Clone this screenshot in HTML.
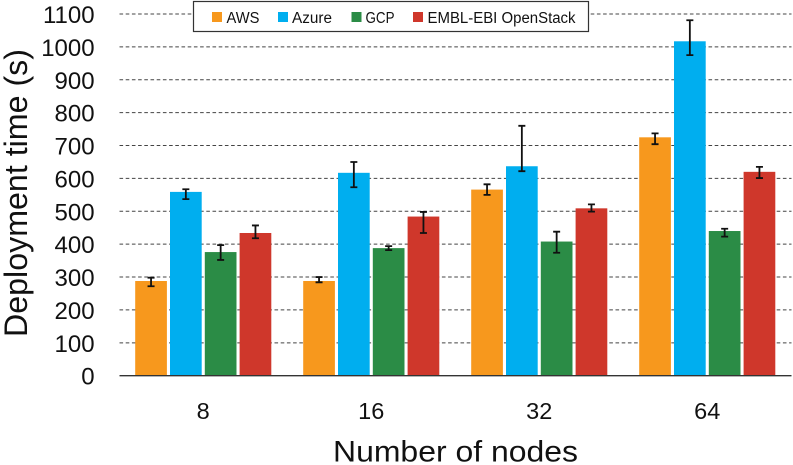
<!DOCTYPE html>
<html>
<head>
<meta charset="utf-8">
<style>
html,body{margin:0;padding:0;background:#fff;width:793px;height:465px;overflow:hidden}
svg{display:block}
text{font-family:"Liberation Sans",sans-serif;fill:#111}
</style>
</head>
<body>
<svg id="chart" width="793" height="465" viewBox="0 0 793 465" xmlns="http://www.w3.org/2000/svg"></svg>
<script>
const categories = ['8', '16', '32', '64'];
const seriesNames = ['AWS', 'Azure', 'GCP', 'EMBL-EBI OpenStack'];
const seriesColors = ['#F7981D', '#00AEEF', '#2B8C46', '#CF372B'];
const awsValues = [288, 288, 566, 725];
const azureValues = [559, 617, 637, 1017];
const gcpValues = [376, 388, 408, 440];
const openstackValues = [434, 484, 509, 620];
const awsErrHigh = [298, 300, 582, 737];
const awsErrLow = [272, 284, 550, 704];
const azureErrHigh = [567, 650, 760, 1081];
const azureErrLow = [537, 573, 622, 975];
const gcpErrHigh = [397, 394, 438, 447];
const gcpErrLow = [352, 382, 374, 423];
const openstackErrHigh = [457, 498, 521, 635];
const openstackErrLow = [418, 434, 499, 601];
const yTicks = [0, 100, 200, 300, 400, 500, 600, 700, 800, 900, 1000, 1100];

const seriesValues = [awsValues, azureValues, gcpValues, openstackValues];
const seriesHigh = [awsErrHigh, azureErrHigh, gcpErrHigh, openstackErrHigh];
const seriesLow = [awsErrLow, azureErrLow, gcpErrLow, openstackErrLow];

const svg = document.getElementById('chart');
const NS = 'http://www.w3.org/2000/svg';
const plotLeft = 119.5, plotRight = 791.5, y0 = 375.7, y1100 = 14;
const groupW = (plotRight - plotLeft) / categories.length;
const barW = 31.7, barStep = 34.8, firstBarOffset = 15.7;

function yScale(v) { return y0 - v * (y0 - y1100) / 1100; }
function groupX(i) { return plotLeft + i * groupW; }
function barX(i, s) { return groupX(i) + firstBarOffset + s * barStep; }
function mk(tag, attrs, parent) {
  const el = document.createElementNS(NS, tag);
  for (const k in attrs) el.setAttribute(k, attrs[k]);
  (parent || svg).appendChild(el);
  return el;
}

yTicks.forEach(function (t) {
  const y = yScale(t);
  if (t > 0) {
    const g = mk('line', { x1: plotLeft, x2: plotRight, y1: y, y2: y, stroke: '#444', 'stroke-width': 1, 'stroke-dasharray': '3.6 2.6' });
    
    
  }
  const l = mk('text', { x: 94.6, y: y + 9, 'text-anchor': 'end', 'font-size': 24 });
  l.textContent = t;
  
  
});

categories.forEach(function (c, i) {
  seriesValues.forEach(function (vals, s) {
    const x = barX(i, s), top = yScale(vals[i]);
    const r = mk('rect', { x: x, y: top, width: barW, height: y0 - top, fill: seriesColors[s] });
    
    
  });
  seriesValues.forEach(function (vals, s) {
    const cx = barX(i, s) + barW / 2;
    const hi = yScale(seriesHigh[s][i]), lo = yScale(seriesLow[s][i]);
    const e = mk('path', {
      d: 'M' + cx + ' ' + hi + 'V' + lo + 'M' + (cx - 3.5) + ' ' + hi + 'H' + (cx + 3.5) + 'M' + (cx - 3.5) + ' ' + lo + 'H' + (cx + 3.5),
      stroke: '#111', 'stroke-width': 1.8, fill: 'none'
    });
    
    
  });
  const l = mk('text', { x: groupX(i) + groupW / 2 - 0.3, y: 419, 'text-anchor': 'middle', 'font-size': 23.5 });
  l.textContent = c;
  
  
});

const axis = mk('line', { x1: plotLeft, x2: plotRight, y1: y0, y2: y0, stroke: '#333', 'stroke-width': 1.3 });



const yTitle = mk('text', { transform: 'translate(27,337) rotate(-90)', 'font-size': 32, textLength: 288, lengthAdjust: 'spacingAndGlyphs' });
yTitle.textContent = 'Deployment time (s)';



const xTitle = mk('text', { x: 333, y: 461.5, 'font-size': 30, textLength: 245, lengthAdjust: 'spacingAndGlyphs' });
xTitle.textContent = 'Number of nodes';



const legend = mk('g', {});


const box = mk('rect', { x: 193.5, y: 1.5, width: 395, height: 30, fill: '#fff', stroke: '#333', 'stroke-width': 1.2 }, legend);


const legendSwatchX = [212, 278, 351.5, 413];
const legendTextX = [226.5, 292, 365.5, 427.5];
const legendTextW = [33, 40, 29, 148];
seriesNames.forEach(function (n, s) {
  const sw = mk('rect', { x: legendSwatchX[s], y: 12, width: 10, height: 10, fill: seriesColors[s] }, legend);
  
  
  const t = mk('text', { x: legendTextX[s], y: 23, 'font-size': 15.5, textLength: legendTextW[s], lengthAdjust: 'spacingAndGlyphs' }, legend);
  t.textContent = n;
  
  
});
</script>
</body>
</html>
